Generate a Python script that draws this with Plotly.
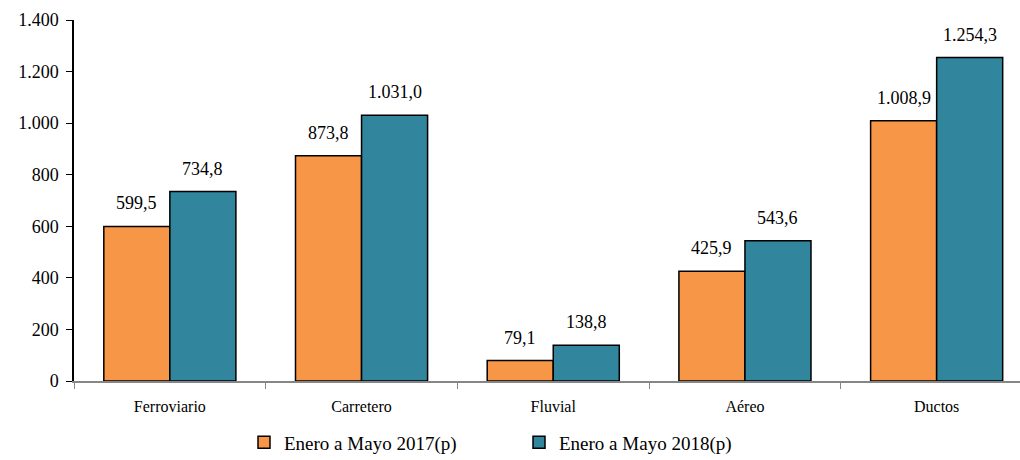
import plotly.graph_objects as go

categories = ["Ferroviario", "Carretero", "Fluvial", "Aéreo", "Ductos"]
values_2017 = [599.5, 873.8, 79.1, 425.9, 1008.9]
values_2018 = [734.8, 1031.0, 138.8, 543.6, 1254.3]
series_names = ["Enero a Mayo 2017(p)", "Enero a Mayo 2018(p)"]
y_ticks = [0, 200, 400, 600, 800, 1000, 1200, 1400]

FONT = "Liberation Serif, Times New Roman, serif"
W, H = 1020, 460
ML, MR, MT, MB = 74, 0, 20, 79
CAT_PX = 191.7            # pixel width of one category slot
BARGAP = 0.311
plot_w = W - ML - MR
x_range = [-0.5, -0.5 + plot_w / CAT_PX]

fig = go.Figure()
fig.add_trace(go.Bar(
    x=categories, y=values_2017, name=series_names[0],
    marker=dict(color="#F79646", line=dict(color="black", width=1.5)),
))
fig.add_trace(go.Bar(
    x=categories, y=values_2018, name=series_names[1],
    marker=dict(color="#31859C", line=dict(color="black", width=1.5)),
))

# value labels above each bar (offset by half a bar width)
half_bar = CAT_PX * (1 - BARGAP) / 4
for vals, sign in ((values_2017, -1), (values_2018, 1)):
    for c, v in zip(categories, vals):
        txt = f"{v:,.1f}".replace(",", "X").replace(".", ",").replace("X", ".")
        fig.add_annotation(x=c, y=v, xref="x", yref="y", text=txt, showarrow=False,
                           xshift=sign * half_bar, yshift=11, yanchor="bottom",
                           font=dict(family=FONT, size=18, color="black"))

fig.update_layout(
    width=W, height=H,
    margin=dict(l=ML, r=MR, t=MT, b=MB, autoexpand=False),
    paper_bgcolor="white", plot_bgcolor="white",
    separators=",.",
    barmode="group", bargap=BARGAP, bargroupgap=0,
    font=dict(family=FONT, size=16, color="black"),
    showlegend=True,
    legend=dict(orientation="h", x=(244 - ML) / plot_w, xanchor="left", y=-0.17, yanchor="middle",
                font=dict(family=FONT, size=19, color="black"), itemwidth=30,
                entrywidth=230, entrywidthmode="pixels", traceorder="normal"),
    xaxis=dict(showline=True, linecolor="#868686", linewidth=1.5, automargin=False,
               range=x_range,
               ticks="outside", tickson="boundaries", ticklen=6, tickcolor="#868686",
               ticklabelstandoff=10,
               tickfont=dict(family=FONT, size=16), showgrid=False),
    yaxis=dict(range=[0, 1400], tickvals=y_ticks, tickformat=",d", automargin=False,
               showline=True, linecolor="black", linewidth=1.5,
               ticks="outside", ticklen=6, tickcolor="black", ticklabelstandoff=4,
               tickfont=dict(family=FONT, size=18), showgrid=False, zeroline=False),
)

fig.write_html("out.html", config={"displayModeBar": False},
               post_script="document.body.style.margin='0';")
